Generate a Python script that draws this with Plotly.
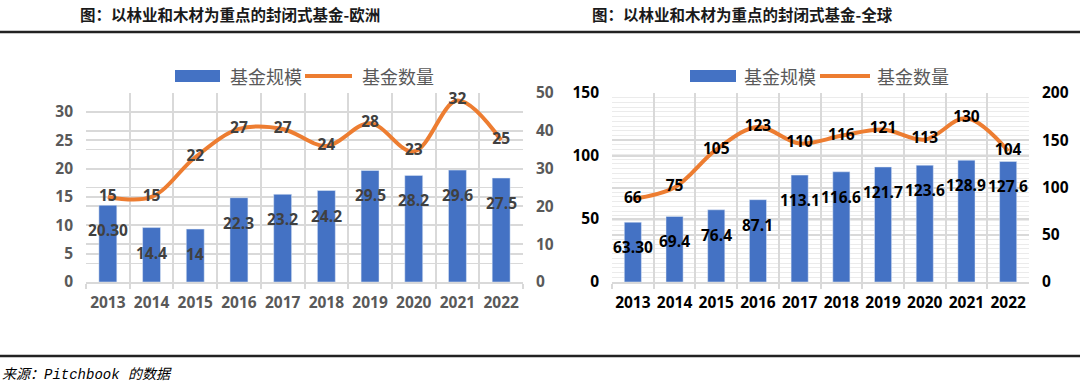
import plotly.graph_objects as go

# ---------------- data ----------------
years = ["2013", "2014", "2015", "2016", "2017", "2018", "2019", "2020", "2021", "2022"]

eu_size = [20.30, 14.4, 14, 22.3, 23.2, 24.2, 29.5, 28.2, 29.6, 27.5]
eu_size_text = ["20.30", "14.4", "14", "22.3", "23.2", "24.2", "29.5", "28.2", "29.6", "27.5"]
eu_count = [15, 15, 22, 27, 27, 24, 28, 23, 32, 25]

gl_size = [63.30, 69.4, 76.4, 87.1, 113.1, 116.6, 121.7, 123.6, 128.9, 127.6]
gl_size_text = ["63.30", "69.4", "76.4", "87.1", "113.1", "116.6", "121.7", "123.6", "128.9", "127.6"]
gl_count = [66, 75, 105, 123, 110, 116, 121, 113, 130, 104]

series_names = ["基金规模", "基金数量"]
titles = ["图：以林业和木材为重点的封闭式基金-欧洲", "图：以林业和木材为重点的封闭式基金-全球"]
source_text = "来源：Pitchbook 的数据"

# ---------------- style ----------------
W, H = 1080, 392
BLUE = "#4472C4"
ORANGE = "#ED7D31"
GRID = "#D9D9D9"
GRAY = "#595959"
DARK = "#404040"
NUMFONT = "Open Sans"
CJK = "Noto Sans CJK SC"
FS = 15.5


def px(x):
    return x / W


def py(y):
    return 1 - y / H


left_dom = [px(86), px(523)]
right_dom = [px(612), px(1029)]
y_dom = [py(282), py(93)]

fig = go.Figure()

# Europe chart: bars on right axis (y), line on left axis (y2)
fig.add_trace(go.Bar(x=years, y=eu_size, name=series_names[0], marker_color=BLUE,
                     width=0.41, xaxis="x", yaxis="y", showlegend=False, hoverinfo="x+y"))
fig.add_trace(go.Scatter(x=years, y=eu_count, name=series_names[1], mode="lines+text",
                         line=dict(color=ORANGE, width=4, shape="spline", smoothing=1.0),
                         text=[str(v) for v in eu_count], textposition="middle center",
                         textfont=dict(family=NUMFONT, size=FS, color=DARK, weight="bold"),
                         xaxis="x", yaxis="y2", showlegend=False, cliponaxis=False))

# Global chart: bars on right axis (y3), line on left axis (y4)
fig.add_trace(go.Bar(x=years, y=gl_size, name=series_names[0], marker_color=BLUE,
                     width=0.41, xaxis="x2", yaxis="y3", showlegend=False, hoverinfo="x+y"))
fig.add_trace(go.Scatter(x=years, y=gl_count, name=series_names[1], mode="lines+text",
                         line=dict(color=ORANGE, width=4, shape="spline", smoothing=1.0),
                         text=[str(v) for v in gl_count], textposition="middle center",
                         textfont=dict(family=NUMFONT, size=FS, color="#000000", weight="bold"),
                         xaxis="x2", yaxis="y4", showlegend=False, cliponaxis=False))


def xaxis_cfg(dom, anchor, color):
    return dict(domain=dom, anchor=anchor, type="category", tickson="boundaries",
                categoryorder="array", categoryarray=years,
                range=[-0.5, len(years) - 0.5], autorange=False, automargin=False,
                showgrid=True, gridcolor=GRID, gridwidth=1.5,
                showline=True, linecolor=GRID, linewidth=1.5,
                ticks="outside", ticklen=5, tickcolor=GRID, tickwidth=1.5,
                ticklabelstandoff=6, tickangle=0,
                tickfont=dict(family=NUMFONT, size=FS, color=color, weight="bold"),
                fixedrange=True)


def yaxis_cfg(anchor, side, rng, dtick, color, overlay=None, minor=None):
    d = dict(anchor=anchor, side=side, range=rng, autorange=False, dtick=dtick, tick0=0,
             automargin=False,
             showgrid=True, gridcolor=GRID, gridwidth=1.5, zeroline=False,
             showline=False, ticks="", ticklabelstandoff=12,
             tickfont=dict(family=NUMFONT, size=FS, color=color, weight="bold"),
             fixedrange=True)
    if overlay:
        d["overlaying"] = overlay
    else:
        d["domain"] = y_dom
    if minor:
        d["minor"] = minor
    return d


fig.update_layout(
    width=W, height=H,
    margin=dict(l=0, r=0, t=0, b=0, pad=0, autoexpand=False),
    paper_bgcolor="white", plot_bgcolor="white",
    barmode="overlay",
    xaxis=xaxis_cfg(left_dom, "y", GRAY),
    yaxis=yaxis_cfg("x", "right", [0, 50], 10, GRAY,
                    minor=dict(dtick=5, showgrid=True, gridcolor=GRID, gridwidth=1)),
    yaxis2=yaxis_cfg("x", "left", [0, 100 / 3], 5, GRAY, overlay="y"),
    xaxis2=xaxis_cfg(right_dom, "y3", "#000000"),
    yaxis3=yaxis_cfg("x2", "right", [0, 200], 50, "#000000",
                     minor=dict(dtick=5, showgrid=True, gridcolor="#EBEBEB", gridwidth=1)),
    yaxis4=yaxis_cfg("x2", "left", [0, 150], 50, "#000000", overlay="y3"),
)

annotations = []
shapes = []

# bar value labels (a fixed pixel distance below each bar top); x is the category index
for i, (v, t) in enumerate(zip(eu_size, eu_size_text)):
    annotations.append(dict(x=i, y=v, xref="x", yref="y", text=t, showarrow=False,
                            yshift=-25, font=dict(family=NUMFONT, size=FS, color=DARK, weight="bold")))
for i, (v, t) in enumerate(zip(gl_size, gl_size_text)):
    annotations.append(dict(x=i, y=v, xref="x2", yref="y3", text=t, showarrow=False,
                            yshift=-25, font=dict(family=NUMFONT, size=FS, color="#000000", weight="bold")))

# titles
for xpos, t in zip([78, 590], titles):
    annotations.append(dict(x=px(xpos), y=py(14), xref="paper", yref="paper", text=t,
                            showarrow=False, xanchor="left", yanchor="middle",
                            font=dict(family=CJK, size=15.5, color="#1a1a1a", weight="bold")))

# legends (custom, Excel-like wide swatches)
for (rx0, rx1, t1x, lx0, lx1, t2x) in [(175, 220, 228, 305, 352, 360),
                                       (690, 736, 742, 820, 870, 875)]:
    shapes.append(dict(type="rect", xref="paper", yref="paper", x0=px(rx0), x1=px(rx1),
                       y0=py(82), y1=py(70), fillcolor=BLUE, line=dict(width=0)))
    shapes.append(dict(type="line", xref="paper", yref="paper", x0=px(lx0), x1=px(lx1),
                       y0=py(76), y1=py(76), line=dict(color=ORANGE, width=4)))
    annotations.append(dict(x=px(t1x), y=py(76), xref="paper", yref="paper", text=series_names[0],
                            showarrow=False, xanchor="left", yanchor="middle",
                            font=dict(family=CJK, size=18, color=GRAY)))
    annotations.append(dict(x=px(t2x), y=py(76), xref="paper", yref="paper", text=series_names[1],
                            showarrow=False, xanchor="left", yanchor="middle",
                            font=dict(family=CJK, size=18, color=GRAY)))

# separator lines
shapes.append(dict(type="line", xref="paper", yref="paper", x0=0, x1=1, y0=py(32), y1=py(32),
                   line=dict(color="#222222", width=2.5)))
shapes.append(dict(type="line", xref="paper", yref="paper", x0=0, x1=1, y0=py(356), y1=py(356),
                   line=dict(color="#222222", width=2.5)))

# source
annotations.append(dict(x=0, y=py(375), xref="paper", yref="paper", text="<i>" + source_text + "</i>",
                        showarrow=False, xanchor="left", yanchor="middle",
                        font=dict(family="Liberation Mono, " + CJK, size=14, color="#000000")))

fig.update_layout(annotations=annotations, shapes=shapes)

fig.write_html("out.html", config={"displayModeBar": False},
               post_script="document.body.style.margin='0';document.body.style.overflow='hidden';")
